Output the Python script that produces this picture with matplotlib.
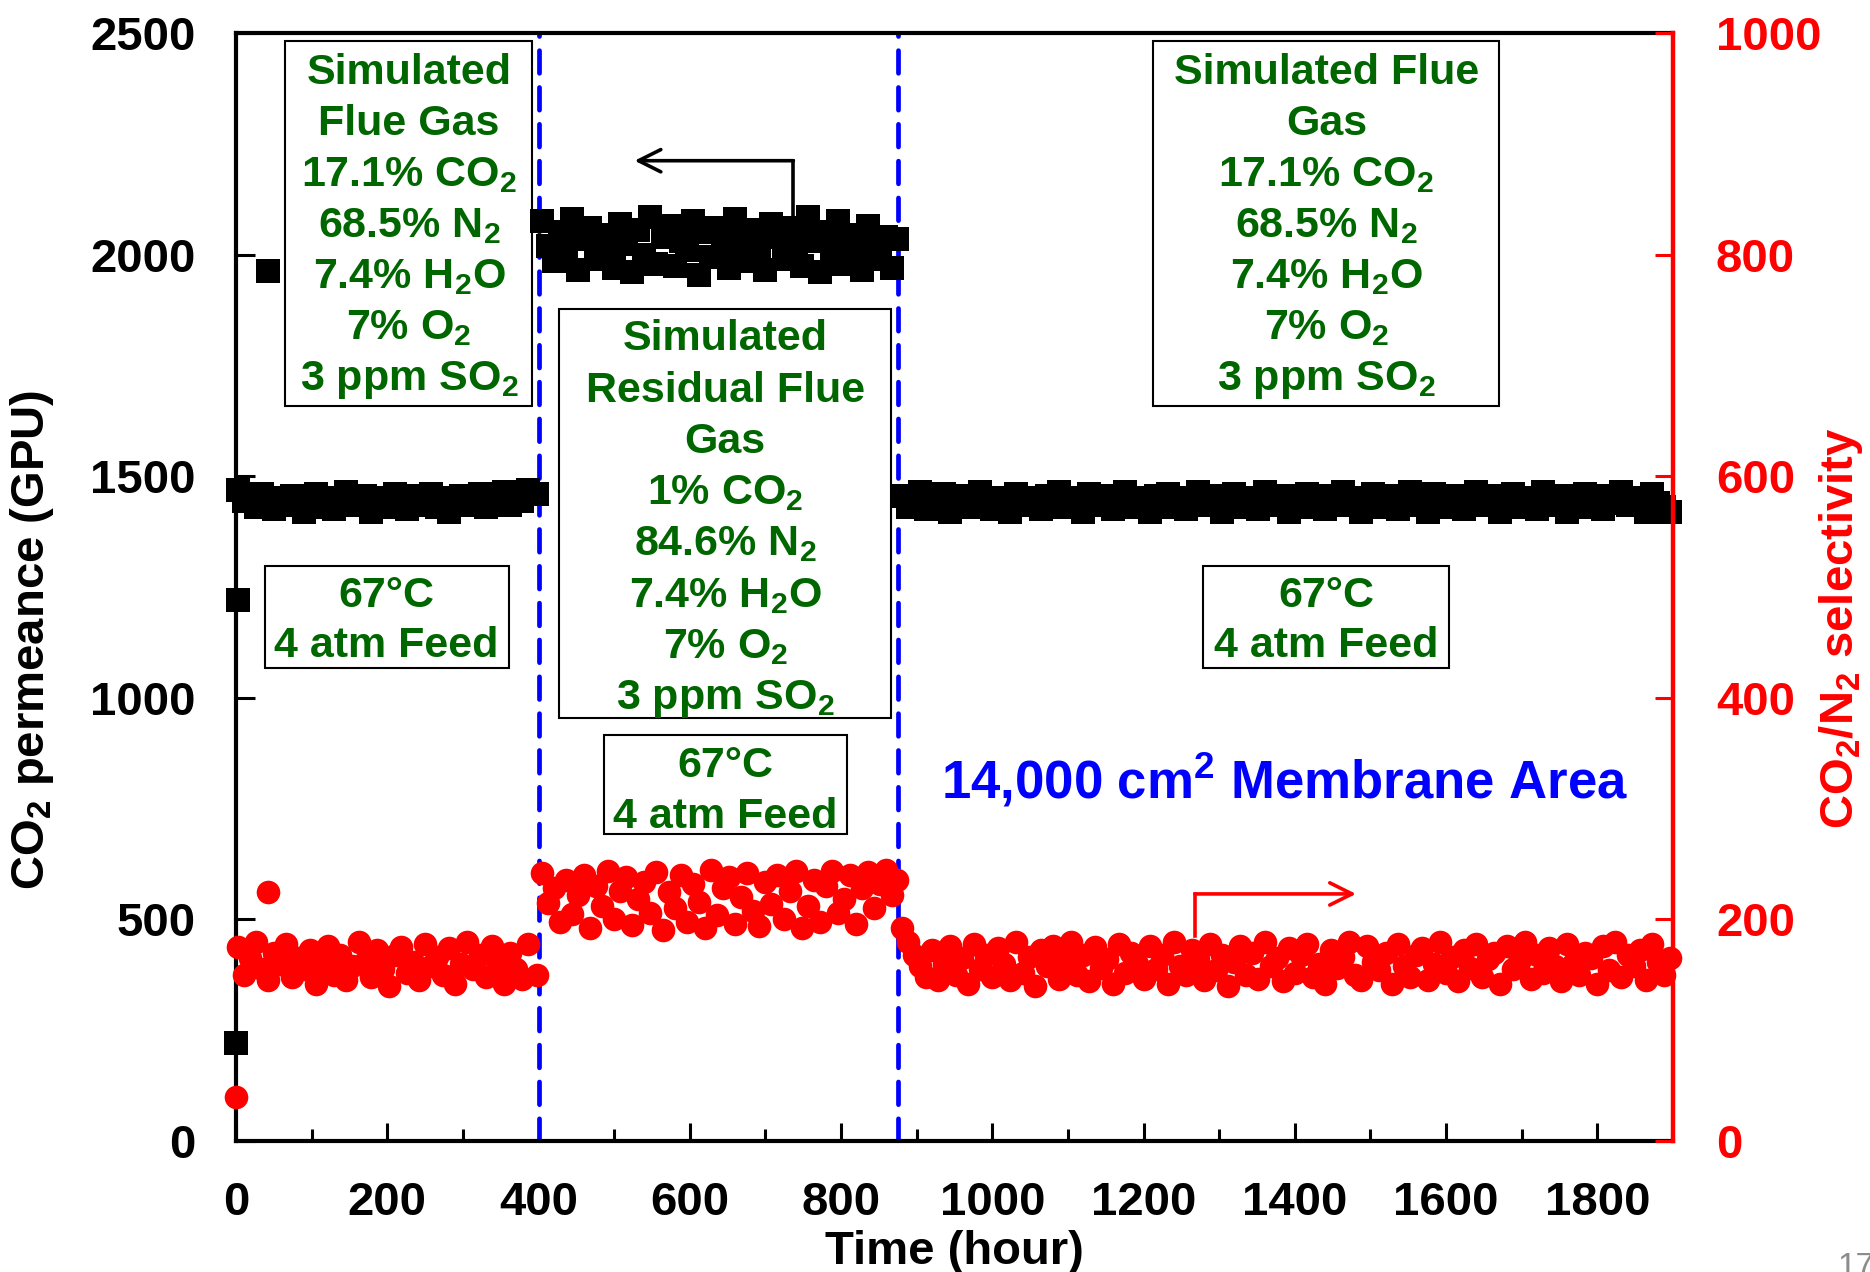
import matplotlib.pyplot as plt
from matplotlib.patches import Rectangle

plt.rcParams['font.family'] = ['Liberation Sans', 'DejaVu Sans']
plt.rcParams['font.weight'] = 'bold'
plt.rcParams['axes.labelweight'] = 'bold'
plt.rcParams['mathtext.fontset'] = 'custom'
plt.rcParams['mathtext.bf'] = 'Liberation Sans:bold'
plt.rcParams['mathtext.rm'] = 'Liberation Sans:bold'
plt.rcParams['mathtext.default'] = 'bf'

GREEN = '#006600'

# start-up readings
t_start_perm = [0, 3, 42]
perm_start = [220, 1220, 1964]
t_start_sel = [0, 42]
sel_start = [40, 225]

# stage 1: simulated flue gas (0-400 h)
t_s1 = [2, 10, 18, 26, 34, 42, 50, 58, 66, 74,
        82, 90, 98, 106, 114, 122, 130, 138, 146, 154,
        162, 170, 178, 186, 194, 202, 210, 218, 226, 234,
        242, 250, 258, 266, 274, 282, 290, 298, 306, 314,
        322, 330, 338, 346, 354, 362, 370, 378, 386, 398]
perm_s1 = [1470, 1445, 1455, 1430, 1460, 1440, 1425, 1450, 1435, 1455,
           1445, 1420, 1440, 1460, 1430, 1450, 1425, 1445, 1465, 1435,
           1440, 1455, 1420, 1445, 1450, 1430, 1460, 1440, 1425, 1455,
           1435, 1445, 1460, 1430, 1450, 1420, 1440, 1455, 1435, 1445,
           1460, 1430, 1450, 1440, 1465, 1435, 1455, 1445, 1470, 1460]
sel_s1 = [175, 150, 165, 180, 155, 145, 170, 160, 178, 148,
          165, 155, 172, 142, 160, 176, 150, 168, 145, 158,
          180, 162, 148, 172, 155, 140, 168, 175, 152, 162,
          145, 178, 158, 166, 150, 174, 142, 160, 180, 155,
          168, 148, 176, 160, 142, 170, 155, 146, 178, 150]

# stage 2: simulated residual flue gas (400-875 h)
t_s2 = [404, 412, 420, 428, 436, 444, 452, 460, 468, 476,
        484, 492, 500, 508, 516, 524, 532, 540, 548, 556,
        564, 572, 580, 588, 596, 604, 612, 620, 628, 636,
        644, 652, 660, 668, 676, 684, 692, 700, 708, 716,
        724, 732, 740, 748, 756, 764, 772, 780, 788, 796,
        804, 812, 820, 828, 836, 844, 852, 860, 868, 874]
perm_s2 = [2075, 2020, 1985, 2050, 2005, 2080, 1965, 2035, 2060, 1990,
           2045, 2015, 1970, 2070, 2025, 1960, 2055, 2000, 2085, 1980,
           2040, 2065, 1975, 2030, 2010, 2075, 1955, 2050, 1995, 2060,
           2020, 1970, 2080, 2035, 1985, 2055, 2005, 1965, 2070, 2040,
           1990, 2060, 2015, 1975, 2085, 2030, 1960, 2050, 2000, 2075,
           1980, 2045, 2020, 1965, 2065, 2010, 1990, 2040, 1970, 2035]
sel_s2 = [242, 215, 228, 198, 236, 205, 222, 240, 192, 230,
          212, 244, 200, 226, 238, 195, 218, 234, 206, 243,
          190, 225, 210, 240, 198, 232, 216, 192, 245, 204,
          228, 238, 196, 220, 242, 208, 194, 234, 214, 240,
          200, 226, 244, 192, 212, 236, 198, 230, 244, 206,
          218, 240, 196, 228, 243, 210, 232, 245, 222, 236]

# stage 3: simulated flue gas again (875-1900 h)
t_s3 = [880, 888, 896, 904, 912, 920, 928, 936, 944, 952,
        960, 968, 976, 984, 992, 1000, 1008, 1016, 1024, 1032,
        1040, 1048, 1056, 1064, 1072, 1080, 1088, 1096, 1104, 1112,
        1120, 1128, 1136, 1144, 1152, 1160, 1168, 1176, 1184, 1192,
        1200, 1208, 1216, 1224, 1232, 1240, 1248, 1256, 1264, 1272,
        1280, 1288, 1296, 1304, 1312, 1320, 1328, 1336, 1344, 1352,
        1360, 1368, 1376, 1384, 1392, 1400, 1408, 1416, 1424, 1432,
        1440, 1448, 1456, 1464, 1472, 1480, 1488, 1496, 1504, 1512,
        1520, 1528, 1536, 1544, 1552, 1560, 1568, 1576, 1584, 1592,
        1600, 1608, 1616, 1624, 1632, 1640, 1648, 1656, 1664, 1672,
        1680, 1688, 1696, 1704, 1712, 1720, 1728, 1736, 1744, 1752,
        1760, 1768, 1776, 1784, 1792, 1800, 1808, 1816, 1824, 1832,
        1840, 1848, 1856, 1864, 1872, 1880, 1888, 1896]
perm_s3 = [1455, 1430, 1445, 1465, 1425, 1450, 1440, 1460, 1420, 1445,
           1435, 1455, 1430, 1465, 1440, 1425, 1450, 1445, 1420, 1460,
           1435, 1450, 1440, 1425, 1455, 1445, 1465, 1430, 1440, 1450,
           1420, 1460, 1435, 1445, 1455, 1425, 1440, 1465, 1430, 1450,
           1445, 1420, 1455, 1440, 1460, 1430, 1445, 1425, 1450, 1465,
           1435, 1440, 1455, 1420, 1445, 1460, 1430, 1450, 1440, 1425,
           1465, 1445, 1435, 1455, 1420, 1440, 1450, 1460, 1430, 1445,
           1425, 1455, 1440, 1465, 1435, 1450, 1420, 1445, 1460, 1430,
           1440, 1455, 1425, 1450, 1465, 1435, 1445, 1420, 1460, 1440,
           1430, 1455, 1445, 1425, 1450, 1465, 1435, 1440, 1455, 1420,
           1445, 1460, 1430, 1450, 1440, 1425, 1465, 1445, 1435, 1455,
           1420, 1440, 1450, 1460, 1430, 1445, 1425, 1455, 1440, 1465,
           1435, 1450, 1445, 1420, 1460, 1440, 1430, 1420]
sel_s3 = [192, 180, 168, 158, 148, 172, 145, 160, 176, 150,
          165, 142, 178, 155, 168, 148, 174, 160, 145, 180,
          152, 166, 140, 172, 158, 176, 146, 162, 180, 150,
          168, 144, 175, 156, 164, 142, 178, 152, 170, 160,
          146, 176, 155, 168, 142, 180, 158, 150, 172, 164,
          145, 178, 154, 168, 140, 162, 176, 150, 170, 146,
          180, 158, 165, 144, 174, 152, 168, 178, 148, 160,
          142, 172, 156, 166, 180, 150, 145, 176, 162, 154,
          170, 142, 178, 158, 148, 168, 174, 145, 160, 180,
          152, 166, 144, 172, 156, 178, 148, 164, 170, 142,
          176, 155, 162, 180, 146, 168, 152, 174, 158, 144,
          178, 160, 150, 170, 165, 142, 176, 154, 180, 148,
          168, 158, 172, 145, 178, 162, 150, 165]

switch_times = [400, 875]

flue_lines = ['Simulated', 'Flue Gas', '17.1% CO$_2$', '68.5% N$_2$',
              '7.4% H$_2$O', '7% O$_2$', '3 ppm SO$_2$']
flue_lines_r = ['Simulated Flue', 'Gas', '17.1% CO$_2$', '68.5% N$_2$',
                '7.4% H$_2$O', '7% O$_2$', '3 ppm SO$_2$']
resid_lines = ['Simulated', 'Residual Flue', 'Gas', '1% CO$_2$', '84.6% N$_2$',
               '7.4% H$_2$O', '7% O$_2$', '3 ppm SO$_2$']
cond_lines = ['67°C', '4 atm Feed']

fig = plt.figure(figsize=(18.7, 12.72), dpi=100)
ax = fig.add_axes([0.1262, 0.103, 0.7684, 0.871])
ax2 = ax.twinx()

ax.plot(t_start_perm + t_s1 + t_s2 + t_s3, perm_start + perm_s1 + perm_s2 + perm_s3,
        's', color='black', ms=17.5, mew=0, clip_on=False, zorder=4)
ax2.plot(t_start_sel + t_s1 + t_s2 + t_s3, sel_start + sel_s1 + sel_s2 + sel_s3,
         'o', color='red', ms=17, mew=0, clip_on=False, zorder=4)

for t in switch_times:
    ax.axvline(t, color='blue', lw=3.4, dashes=(4.8, 3.0), dash_capstyle='round',
               zorder=2)


def box(x0, x1, y0, y1):
    ax.add_patch(Rectangle((x0, y0), x1 - x0, y1 - y0, fc='white', ec='black',
                           lw=1.5, zorder=3))


def write(xc, y_top, step, texts):
    for i, s in enumerate(texts):
        ax.text(xc, y_top - i * step, s, ha='center', va='baseline', color=GREEN,
                fontsize=31, zorder=5)


box(65, 391, 1658, 2481)
write(229, 2384, 114.8, flue_lines)
box(1213, 1670, 1658, 2481)
write(1442, 2384, 114.8, flue_lines_r)
box(427, 866, 955, 1878)
write(647, 1784, 115.7, resid_lines)
box(38, 361, 1068, 1297)
write(199, 1205, 113, cond_lines)
box(1279, 1604, 1068, 1297)
write(1442, 1205, 113, cond_lines)
box(487, 808, 692, 915)
write(647, 821, 115.5, cond_lines)

ax.text(1387, 772, '14,000 cm$^2$ Membrane Area', ha='center', va='baseline',
        color='blue', fontsize=38, zorder=5)

# arrows pointing to the axis of each series
ax.plot([737, 737], [2037, 2212], color='black', lw=2.6, zorder=5)
ax.annotate('', xy=(527, 2212), xytext=(737, 2212),
            arrowprops=dict(arrowstyle='->', color='black', lw=2.6, mutation_scale=40,
                            shrinkA=0, shrinkB=0), zorder=5)
ax2.plot([1268, 1268], [185, 223], color='red', lw=2.6, zorder=5)
ax2.annotate('', xy=(1481, 223), xytext=(1268, 223),
             arrowprops=dict(arrowstyle='->', color='red', lw=2.6, mutation_scale=40,
                             shrinkA=0, shrinkB=0), zorder=5)

ax.set_xlim(0, 1900)
ax.set_ylim(0, 2500)
ax2.set_ylim(0, 1000)
ax.set_xticks(range(0, 1801, 200))
ax.set_xticks(range(100, 1900, 200), minor=True)
ax.set_yticks(range(0, 2501, 500))
ax2.set_yticks(range(0, 1001, 200))

ax.tick_params(axis='x', which='major', direction='in', length=13, width=2.2,
               labelsize=34, pad=28.5)
ax.tick_params(axis='x', which='minor', direction='in', length=9, width=2.2)
ax.tick_params(axis='y', direction='in', length=14, width=2.2, labelsize=34, pad=29)
ax2.tick_params(axis='y', direction='in', length=13, width=2.2, labelsize=34, pad=31,
                colors='red')

ax.spines['right'].set_visible(False)
for s in ['left', 'top', 'bottom']:
    ax.spines[s].set_linewidth(3)
    ax2.spines[s].set_visible(False)
ax2.spines['right'].set_color('red')
ax2.spines['right'].set_linewidth(3.2)

ax.set_xlabel('Time (hour)', fontsize=34, fontweight='bold')
ax.xaxis.set_label_coords(0.5, -0.08)
ax.set_ylabel('CO$_2$ permeance (GPU)', fontsize=34, fontweight='bold')
ax.yaxis.set_label_coords(-0.125, 0.452)
ax2.set_ylabel('CO$_2$/N$_2$ selectivity', fontsize=34, color='red', fontweight='bold')
ax2.yaxis.set_label_coords(1.100, 0.4625)

fig.text(1838 / 1870, -0.003, '17', fontsize=24, color='#8c8c8c',
         fontweight='normal', va='baseline')

fig.savefig('out.png', dpi=100)
